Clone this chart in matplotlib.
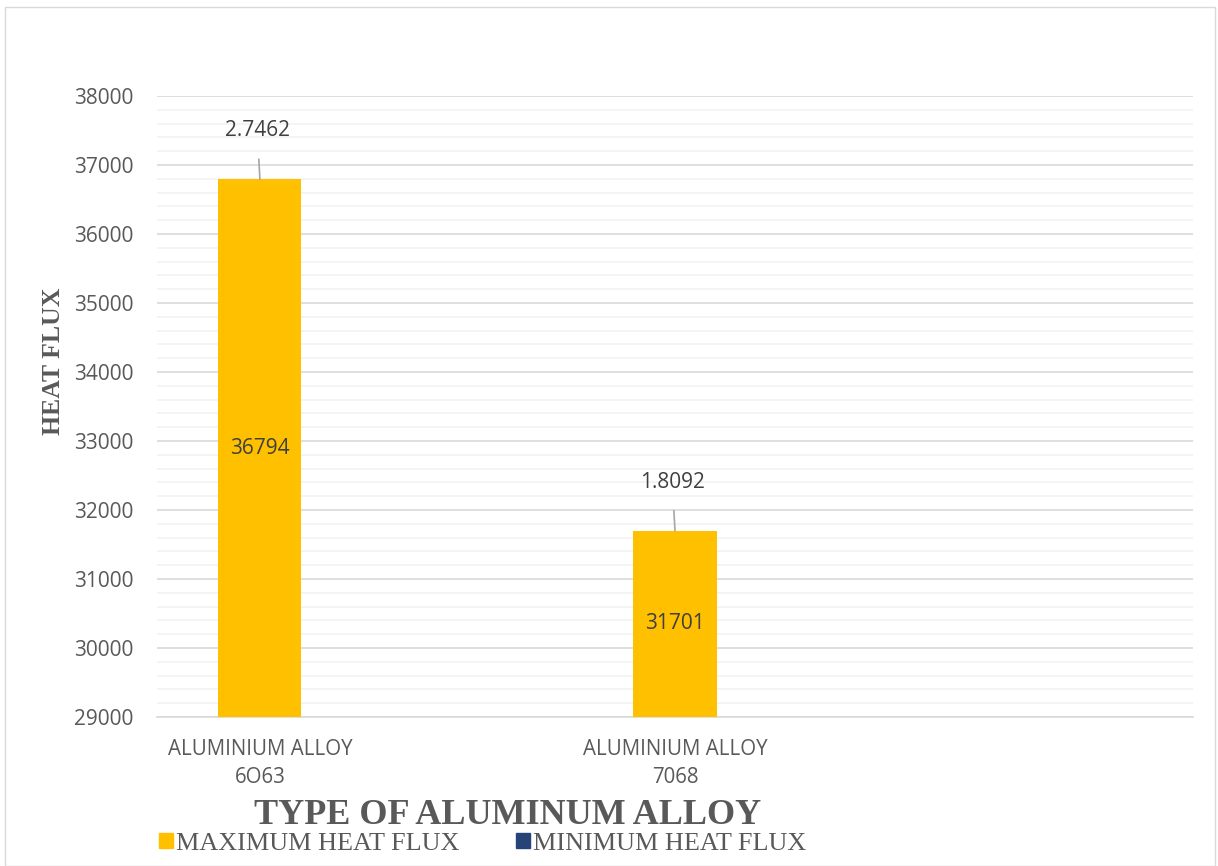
import matplotlib.pyplot as plt
import matplotlib.patches as mpatches
from matplotlib.ticker import MultipleLocator

categories = ['ALUMINIUM ALLOY\n6O63', 'ALUMINIUM ALLOY\n7068']
max_flux = [36794, 31701]
min_flux = [2.7462, 1.8092]
min_labels = ['2.7462', '1.8092']

YELLOW = '#FFC000'
NAVY = '#264478'
GREY_TXT = '#595959'

fig = plt.figure(figsize=(12.18, 8.66), dpi=100)
ax = fig.add_axes([157 / 1218, 1 - 717 / 866, 1036 / 1218, 621 / 866])

x = list(range(len(categories)))
w = 0.2
bars = ax.bar(x, max_flux, width=w, color=YELLOW, zorder=3)
ax.bar([i + w for i in x], min_flux, width=w, color=NAVY, zorder=3)

ax.set_ylim(29000, 38000)
ax.set_xlim(-0.248, 2.248)
ax.yaxis.set_major_locator(MultipleLocator(1000))
ax.yaxis.set_minor_locator(MultipleLocator(200))
ax.grid(axis='y', which='major', color='#D9D9D9', lw=1.2, zorder=0)
ax.grid(axis='y', which='minor', color='#F2F2F2', lw=1.2, zorder=0)
for s in ['top', 'right', 'left']:
    ax.spines[s].set_visible(False)
ax.spines['bottom'].set_color('#D9D9D9')
ax.spines['bottom'].set_linewidth(1.2)

ax.set_xticks(x)
ax.set_xticklabels(categories, fontfamily='Open Sans', fontsize=14.8,
                   color=GREY_TXT, linespacing=1.4)
ax.tick_params(axis='x', length=0, pad=16)
ax.tick_params(axis='y', which='both', length=0, pad=17,
               labelsize=15, labelcolor=GREY_TXT)
for t in ax.get_yticklabels():
    t.set_fontfamily('Open Sans')

# value labels inside the bars
for b, v in zip(bars, max_flux):
    ax.text(b.get_x() + b.get_width() / 2, (29000 + v) / 2, str(v),
            ha='center', va='center', fontfamily='Open Sans', fontsize=15,
            color='#404040', zorder=4)

# labels for the tiny minimum series, with leader lines
for b, v, lab in zip(bars, max_flux, min_labels):
    cx = b.get_x() + b.get_width() / 2
    ax.annotate(lab, xy=(cx, v), xytext=(-2, 35), textcoords='offset points',
                ha='center', va='center', fontfamily='Open Sans', fontsize=15,
                color='#404040', zorder=4,
                arrowprops=dict(arrowstyle='-', color='#A6A6A6', lw=1.2,
                                shrinkA=11, shrinkB=0))

fig.text(54 / 1218, 1 - 361 / 866, 'HEAT FLUX', rotation=90, ha='center',
         va='center', fontfamily='Liberation Serif', fontweight='bold',
         fontsize=18.5, color=GREY_TXT)
fig.text(508 / 1218, 1 - 815 / 866, 'TYPE OF ALUMINUM ALLOY', ha='center',
         va='center', fontfamily='Liberation Serif', fontweight='bold',
         fontsize=26, color=GREY_TXT)

handles = [mpatches.Patch(color=YELLOW, label='MAXIMUM HEAT FLUX'),
           mpatches.Patch(color=NAVY, label='MINIMUM HEAT FLUX')]
leg = fig.legend(handles=handles, loc='center left',
                 bbox_to_anchor=(149 / 1218, 1 - 844 / 866), ncol=2,
                 frameon=False, handlelength=0.5, handleheight=0.5,
                 handletextpad=0.12, columnspacing=2.2, borderaxespad=0,
                 prop={'family': 'Liberation Serif', 'size': 18.8})
for t in leg.get_texts():
    t.set_color(GREY_TXT)

fig.patches.append(mpatches.Rectangle((5 / 1218, 0), 1210 / 1218, 1 - 7 / 866,
                                      transform=fig.transFigure, fill=False,
                                      ec='#D9D9D9', lw=1))

fig.savefig('out.png', dpi=100)
